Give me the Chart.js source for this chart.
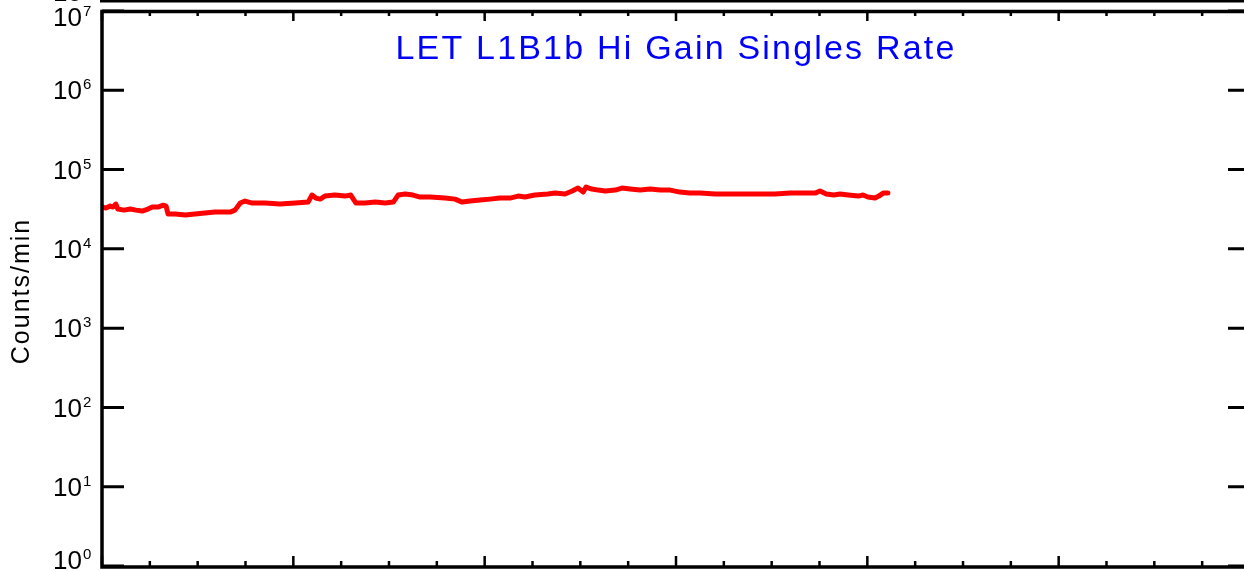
<!DOCTYPE html>
<html>
<head>
<meta charset="utf-8">
<script src="https://cdn.jsdelivr.net/npm/chart.js@4.4.1/dist/chart.umd.min.js"></script>
<style>
  html, body { margin: 0; padding: 0; background: #fff; overflow: hidden; width: 1244px; height: 571px; }
  #wrap { width: 1256px; height: 571px; }
</style>
</head>
<body>
<div id="wrap"><canvas id="c" width="1256" height="571"></canvas></div>
<script>
// LET L1B1b Hi Gain Singles Rate — 로그 축, 하루(시) 단위 x축
// x: 시각(시), y: counts/min (그림에서 눈으로 읽은 값)
const hours = [
  0.00, 0.08, 0.17, 0.23, 0.29, 0.33, 0.46, 0.59, 0.71, 0.84, 0.96, 1.05, 1.17, 1.28, 1.34,
  1.38, 1.53, 1.74, 1.94, 2.15, 2.36, 2.68, 2.78, 2.89, 2.99, 3.14, 3.41, 3.72, 4.04, 4.31,
  4.39, 4.47, 4.56, 4.66, 4.87, 5.08, 5.20, 5.31, 5.50, 5.71, 5.92, 6.09, 6.19, 6.34, 6.50,
  6.65, 6.86, 7.17, 7.38, 7.53, 7.69, 7.90, 8.11, 8.32, 8.53, 8.70, 8.84, 9.05, 9.32, 9.47,
  9.68, 9.83, 9.95, 10.06, 10.12, 10.24, 10.37, 10.52, 10.73, 10.87, 11.04, 11.25, 11.46, 11.67, 11.88,
  12.08, 12.29, 12.50, 12.82, 13.13, 13.44, 13.76, 14.07, 14.38, 14.70, 14.91, 15.01, 15.14, 15.30, 15.43,
  15.60, 15.81, 15.91, 16.01, 16.16, 16.24, 16.33, 16.43,
];
const counts = [
  33700, 32700, 34600, 33700, 36700, 31800, 30800, 31800, 30800, 30000, 31800, 33700, 33700, 35600, 34600,
  27500, 27500, 26700, 27500, 28300, 29100, 29100, 30800, 37800, 40100, 37800, 37800, 36700, 37800, 38900,
  47700, 43700, 42400, 46300, 47700, 46300, 47700, 37800, 37800, 38900, 37800, 38900, 47700, 49100, 47700,
  45000, 45000, 43700, 42400, 38900, 40100, 41200, 42400, 43700, 43700, 46300, 45000, 47700, 49100, 50500,
  49100, 53600, 58400, 52000, 60200, 56800, 55100, 53600, 55100, 58400, 56800, 55100, 56800, 55100, 55100,
  52000, 50500, 50500, 49100, 49100, 49100, 49100, 49100, 50500, 50500, 50500, 53600, 49100, 47700, 49100,
  47700, 46300, 47700, 45000, 43700, 46300, 50500, 50500,
];

// 축 눈금
const yDecades = [1, 10, 100, 1000, 1e4, 1e5, 1e6, 1e7];
const yExps    = ['0', '1', '2', '3', '4', '5', '6', '7'];
const xTicks   = Array.from({ length: 25 }, (_, i) => i);   // 매 시
const xMajorEvery = 4;

const TITLE  = 'LET L1B1b Hi Gain Singles Rate';
const YLABEL = 'Counts/min';

// 프레임·눈금·라벨 (IDL 스타일: 안쪽 눈금, 네 면 테두리)
const idlFrame = {
  id: 'idlFrame',
  afterDraw(chart) {
    const { ctx, chartArea: a, scales: { x, y } } = chart;
    ctx.save();
    ctx.strokeStyle = '#000';
    ctx.fillStyle = '#000';

    // 위 패널 흔적 (잘린 아래 축)
    ctx.fillRect(a.left - 2, 0, chart.width, 2.5);
    ctx.font = '26px "Liberation Sans", Arial, sans-serif';
    ctx.textAlign = 'right';
    ctx.textBaseline = 'middle';
    ctx.fillText('10', 82, -6);

    // 테두리
    ctx.lineWidth = 3.5;
    ctx.strokeRect(a.left, a.top + 0.5, a.right - a.left, a.bottom - a.top + 0.5);

    // y 눈금 (좌/우)
    ctx.lineWidth = 3;
    yDecades.forEach(v => {
      const py = y.getPixelForValue(v);
      ctx.beginPath();
      ctx.moveTo(a.left, py); ctx.lineTo(a.left + 22, py);
      ctx.moveTo(a.right - 22, py); ctx.lineTo(a.right, py);
      ctx.stroke();
    });

    // x 눈금 (위/아래)
    ctx.lineWidth = 2.5;
    xTicks.forEach(h => {
      const px = x.getPixelForValue(h);
      const len = h % xMajorEvery === 0 ? 10 : 5;
      ctx.beginPath();
      ctx.moveTo(px, a.top); ctx.lineTo(px, a.top + len);
      ctx.moveTo(px, a.bottom); ctx.lineTo(px, a.bottom - len);
      ctx.stroke();
    });

    // y 라벨 10^n
    yDecades.forEach((v, i) => {
      const py = y.getPixelForValue(v);
      const cy = Math.min(Math.max(py + 2, a.top + 8), a.bottom - 4);
      ctx.font = '26px "Liberation Sans", Arial, sans-serif';
      ctx.textAlign = 'right';
      ctx.textBaseline = 'middle';
      ctx.fillText('10', 82, cy);
      ctx.font = '15px "Liberation Sans", Arial, sans-serif';
      ctx.textAlign = 'left';
      ctx.fillText(yExps[i], 83, cy - 7);
    });

    // 축 제목
    ctx.font = '25px "Liberation Sans", Arial, sans-serif';
    ctx.letterSpacing = '2px';
    ctx.textAlign = 'center';
    ctx.textBaseline = 'middle';
    ctx.save();
    ctx.translate(22, 291);
    ctx.rotate(-Math.PI / 2);
    ctx.fillText(YLABEL, 0, 0);
    ctx.restore();

    // 제목
    ctx.fillStyle = '#0000ff';
    ctx.font = '34px "Liberation Sans", Arial, sans-serif';
    ctx.letterSpacing = '2.2px';
    ctx.fillText(TITLE, 676, 50);
    ctx.restore();
  }
};

new Chart(document.getElementById('c').getContext('2d'), {
  type: 'line',
  data: {
    datasets: [{
      data: hours.map((h, i) => ({ x: h, y: counts[i] })),
      borderColor: '#ff0000',
      borderWidth: 5,
      pointRadius: 0,
      tension: 0,
      borderJoinStyle: 'round',
      borderCapStyle: 'round',
      fill: false,
    }]
  },
  options: {
    responsive: false,
    animation: false,
    layout: { padding: { left: 102, top: 11, right: 6, bottom: 5 } },
    plugins: { legend: { display: false }, tooltip: { enabled: false } },
    scales: {
      x: { type: 'linear', min: 0, max: 24, display: false },
      y: { type: 'logarithmic', min: 1, max: 1e7, display: false },
    }
  },
  plugins: [idlFrame],
});
</script>
</body>
</html>
